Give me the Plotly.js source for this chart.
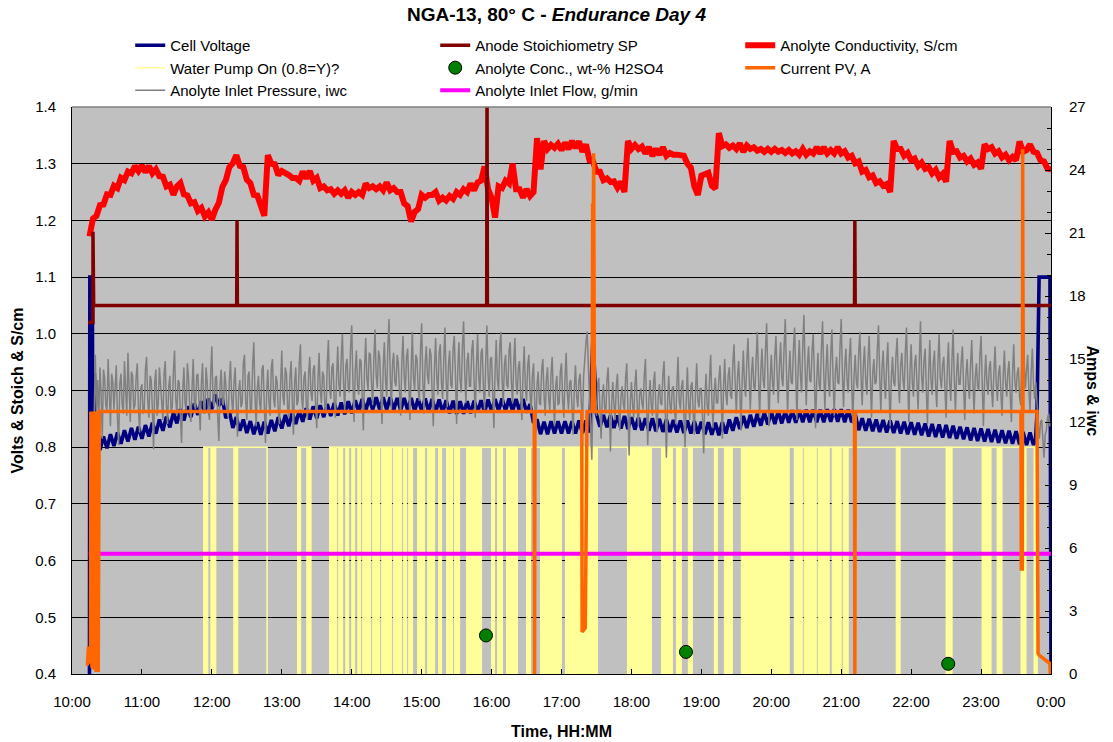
<!DOCTYPE html>
<html>
<head>
<meta charset="utf-8">
<script src="https://cdn.plot.ly/plotly-3.0.1.min.js"></script>
<style>
  html, body { margin: 0; padding: 0; background: #ffffff; }
  #chart { width: 1113px; height: 742px; }
</style>
</head>
<body>
<div id="chart"></div>
<script>
// ---- Time axis (hours of the day, 24 = midnight) ----
const xTickVals = [10, 11, 12, 13, 14, 15, 16, 17, 18, 19, 20, 21, 22, 23, 24];
const xTickText = ['10:00', '11:00', '12:00', '13:00', '14:00', '15:00', '16:00', '17:00',
                   '18:00', '19:00', '20:00', '21:00', '22:00', '23:00', '0:00'];

// ---- Anolyte conductivity, S/cm (logged every 3 min from 10:15) ----
const conductivityStart = 10.25;
const conductivityStepMin = 3;
const conductivity = [
  1.172, 1.203, 1.208, 1.227, 1.228, 1.246, 1.245, 1.261, 1.257, 1.275, 1.271, 1.286, 1.283, 1.296, 1.287,
  1.297, 1.285, 1.296, 1.283, 1.290, 1.278, 1.277, 1.260, 1.263, 1.245, 1.260, 1.266, 1.246, 1.244, 1.230, 1.232, 1.217, 1.222, 1.207, 1.214,
  1.201, 1.219, 1.231, 1.259, 1.271, 1.294, 1.301, 1.315, 1.296, 1.294, 1.272, 1.266, 1.245, 1.244, 1.223, 1.208, 1.315, 1.300, 1.299, 1.280,
  1.287, 1.284, 1.280, 1.275, 1.275, 1.270, 1.286, 1.274, 1.287, 1.270, 1.275, 1.257, 1.260, 1.253, 1.255, 1.247, 1.253, 1.247, 1.253, 1.240,
  1.250, 1.245, 1.250, 1.245, 1.265, 1.257, 1.260, 1.255, 1.260, 1.253, 1.267, 1.253, 1.257, 1.250, 1.250, 1.230, 1.225, 1.198, 1.215, 1.220,
  1.245, 1.240, 1.245, 1.245, 1.250, 1.235, 1.240, 1.235, 1.243, 1.238, 1.250, 1.245, 1.255, 1.250, 1.265, 1.253, 1.267, 1.270, 1.295, 1.255,
  1.240, 1.205, 1.260, 1.257, 1.270, 1.265, 1.300, 1.255, 1.255, 1.240, 1.255, 1.243, 1.250, 1.345, 1.290, 1.340, 1.326, 1.333, 1.328, 1.335,
  1.324, 1.337, 1.326, 1.340, 1.328, 1.339, 1.321, 1.334, 1.306, 1.304, 1.286, 1.286, 1.271, 1.274, 1.268, 1.269, 1.258, 1.268, 1.250, 1.340,
  1.326, 1.333, 1.326, 1.330, 1.318, 1.329, 1.314, 1.326, 1.316, 1.329, 1.314, 1.319, 1.316, 1.316, 1.314, 1.314, 1.300, 1.293, 1.260, 1.245,
  1.279, 1.281, 1.284, 1.261, 1.256, 1.354, 1.331, 1.334, 1.328, 1.332, 1.326, 1.336, 1.321, 1.332, 1.326, 1.329, 1.323, 1.326, 1.321, 1.326,
  1.321, 1.326, 1.321, 1.324, 1.319, 1.324, 1.318, 1.322, 1.316, 1.326, 1.316, 1.322, 1.318, 1.329, 1.318, 1.329, 1.318, 1.324, 1.318, 1.329,
  1.318, 1.322, 1.311, 1.314, 1.301, 1.304, 1.286, 1.289, 1.276, 1.279, 1.266, 1.269, 1.261, 1.264, 1.250, 1.340, 1.326, 1.326, 1.314, 1.319,
  1.306, 1.309, 1.296, 1.302, 1.291, 1.294, 1.283, 1.289, 1.276, 1.282, 1.268, 1.340, 1.321, 1.322, 1.311, 1.314, 1.304, 1.309, 1.298, 1.302,
  1.291, 1.334, 1.326, 1.329, 1.318, 1.322, 1.311, 1.316, 1.306, 1.312, 1.306, 1.339, 1.321, 1.324, 1.334, 1.321, 1.319, 1.306, 1.304, 1.291,
  1.290
];

// ---- Cell voltage, V ----
const voltageStartT = [10.25, 10.255, 10.29, 10.30, 10.32, 10.34];
const voltageStartV = [0.40, 1.10, 1.10, 0.72, 0.93, 0.80];
const voltageBandStart = 10.35;
const voltageStepMin = 3;
const voltageBand = [
  0.816, 0.795, 0.819, 0.798, 0.823, 0.802, 0.826, 0.806, 0.830, 0.810, 0.834, 0.813, 0.836,
  0.815, 0.839, 0.819, 0.843, 0.824, 0.849, 0.829, 0.854, 0.835, 0.861, 0.842, 0.867, 0.847, 0.872, 0.853, 0.877, 0.857, 0.881, 0.861, 0.886,
  0.867, 0.893, 0.873, 0.886, 0.851, 0.863, 0.834, 0.853, 0.829, 0.849, 0.825, 0.846, 0.823, 0.844, 0.822, 0.845, 0.824, 0.848, 0.828, 0.853,
  0.833, 0.857, 0.837, 0.861, 0.841, 0.865, 0.845, 0.869, 0.849, 0.872, 0.851, 0.874, 0.853, 0.876, 0.855, 0.878, 0.856, 0.879, 0.858, 0.881,
  0.860, 0.883, 0.862, 0.885, 0.864, 0.887, 0.866, 0.888, 0.866, 0.888, 0.866, 0.888, 0.865, 0.887, 0.865, 0.887, 0.865, 0.887, 0.864, 0.886,
  0.864, 0.886, 0.863, 0.885, 0.862, 0.884, 0.861, 0.883, 0.860, 0.882, 0.859, 0.881, 0.859, 0.881, 0.860, 0.882, 0.861, 0.883, 0.862, 0.884,
  0.863, 0.885, 0.864, 0.886, 0.864, 0.886, 0.864, 0.885, 0.863, 0.885, 0.861, 0.876, 0.843, 0.849, 0.823, 0.845, 0.823, 0.846, 0.824, 0.846,
  0.824, 0.846, 0.824, 0.846, 0.824, 0.847, 0.825, 0.847, 0.826, 0.995, 0.858, 0.836, 0.857, 0.835, 0.856, 0.834, 0.856, 0.833, 0.855, 0.832,
  0.853, 0.831, 0.852, 0.830, 0.851, 0.829, 0.851, 0.828, 0.850, 0.827, 0.849, 0.827, 0.848, 0.826, 0.847, 0.825, 0.847, 0.824, 0.846, 0.824,
  0.845, 0.823, 0.844, 0.822, 0.843, 0.821, 0.844, 0.824, 0.849, 0.829, 0.853, 0.832, 0.855, 0.834, 0.857, 0.836, 0.859, 0.838, 0.861, 0.840,
  0.863, 0.841, 0.864, 0.842, 0.864, 0.843, 0.865, 0.843, 0.865, 0.844, 0.866, 0.844, 0.866, 0.844, 0.866, 0.844, 0.867, 0.845, 0.867, 0.845,
  0.867, 0.844, 0.866, 0.844, 0.859, 0.830, 0.851, 0.829, 0.850, 0.828, 0.849, 0.827, 0.848, 0.826, 0.847, 0.825, 0.846, 0.824, 0.845, 0.823,
  0.844, 0.822, 0.843, 0.821, 0.842, 0.819, 0.841, 0.818, 0.840, 0.817, 0.839, 0.816, 0.838, 0.815, 0.836, 0.814, 0.835, 0.812, 0.834, 0.811,
  0.833, 0.810, 0.832, 0.809, 0.831, 0.808, 0.830, 0.807, 0.829, 0.806, 0.828, 0.805, 0.827, 0.804, 0.826, 0.804
];
const voltageEndT = [23.78, 23.80, 23.815, 23.83, 23.985, 24.0];
const voltageEndV = [0.815, 0.86, 0.98, 1.10, 1.10, 0.40];

// ---- Anolyte inlet pressure, iwc (logged every minute from 10:18) ----
const pressureStart = 10.3;
const pressureStepMin = 1;
const pressure = [
  9.0, 13.1, 15.2, 12.4, 14.0, 12.1, 14.6, 13.3, 11.2, 14.5, 14.1, 12.8, 12.5, 15.0, 13.2, 11.8, 14.3, 13.9, 12.6, 13.4, 14.7, 12.2, 10.9, 13.8, 14.3, 12.9, 12.4, 14.9, 13.0, 12.3,
  15.3, 13.5, 12.0, 14.4, 14.2, 12.6, 12.8, 14.1, 14.8, 12.7, 11.5, 13.6, 13.8, 12.4, 12.6, 14.5, 15.1, 13.0, 12.2, 14.2, 14.0, 12.5, 10.7, 13.9, 14.5, 12.3, 12.9, 14.6, 13.7, 12.6,
  12.1, 14.3, 14.9, 12.8, 11.9, 13.7, 14.2, 12.5, 12.7, 14.4, 15.4, 13.1, 12.3, 14.0, 13.9, 12.4, 11.0, 13.5, 14.6, 12.9, 12.5, 14.8, 14.1, 12.7, 12.0, 13.6, 15.0, 12.8, 12.6, 14.2,
  14.3, 12.9, 11.6, 13.8, 14.8, 12.7, 12.4, 14.6, 13.9, 12.5, 12.1, 14.3, 15.6, 13.0, 12.7, 14.1, 14.2, 12.3, 11.1, 13.7, 14.5, 12.9, 12.8, 14.4, 13.8, 12.6, 12.2, 14.0, 14.9, 13.1,
  12.4, 13.9, 14.6, 12.8, 11.3, 13.5, 14.0, 12.7, 12.9, 14.8, 15.2, 13.0, 12.1, 14.2, 14.4, 12.6, 12.6, 14.7, 15.8, 13.3, 11.8, 13.6, 14.2, 12.9, 12.5, 14.5, 14.7, 12.8, 11.0, 13.4,
  14.5, 12.9, 12.3, 14.6, 15.0, 13.1, 12.7, 14.2, 13.9, 12.5, 11.9, 13.8, 15.4, 13.2, 12.8, 14.6, 14.3, 12.7, 12.2, 14.1, 14.9, 13.0, 11.4, 13.9, 14.6, 12.8, 13.0, 14.8, 15.7, 13.2,
  12.6, 14.1, 14.4, 12.9, 12.1, 14.3, 15.1, 13.4, 13.0, 14.5, 14.7, 12.8, 11.7, 14.0, 15.3, 13.5, 12.9, 14.4, 14.2, 12.7, 12.4, 14.8, 15.9, 13.6, 13.1, 14.6, 14.8, 13.0, 12.2, 14.1,
  15.6, 13.8, 13.2, 15.1, 16.2, 13.9, 12.5, 14.7, 15.0, 13.6, 13.4, 15.5, 16.6, 14.0, 12.0, 14.4, 15.4, 13.7, 13.3, 15.0, 14.9, 13.2, 11.6, 14.5, 16.0, 14.1, 13.5, 15.3, 15.2, 13.8,
  12.8, 15.0, 16.4, 14.2, 13.6, 15.4, 15.1, 13.5, 11.9, 14.6, 15.8, 14.0, 13.2, 15.6, 16.9, 14.3, 12.6, 14.8, 15.3, 13.9, 13.7, 15.2, 14.8, 13.4, 12.3, 14.9, 16.1, 14.2, 13.4, 15.1,
  15.5, 13.7, 12.1, 14.5, 16.3, 14.1, 13.5, 15.2, 15.0, 13.6, 13.0, 15.4, 16.7, 14.0, 12.4, 14.8, 15.6, 14.2, 13.8, 15.5, 15.2, 13.4, 11.8, 14.6, 16.0, 14.1, 13.3, 15.3, 15.7, 13.9,
  13.1, 15.0, 16.5, 14.0, 12.7, 14.7, 15.4, 13.8, 13.6, 15.5, 16.1, 14.2, 11.9, 14.5, 15.8, 14.0, 13.4, 15.6, 16.8, 14.3, 12.9, 14.9, 15.3, 13.7, 13.7, 15.4, 15.9, 13.9, 12.2, 14.6,
  16.2, 14.1, 13.4, 15.3, 15.5, 13.6, 12.6, 14.9, 16.6, 14.2, 13.2, 15.0, 15.1, 13.4, 11.7, 14.4, 15.9, 14.0, 13.5, 15.6, 16.3, 14.1, 12.8, 14.7, 15.2, 13.8, 13.6, 15.4, 15.8, 13.9,
  12.9, 14.8, 16.0, 13.9, 13.3, 14.6, 14.9, 13.2, 12.1, 14.3, 15.6, 13.7, 13.0, 14.7, 15.2, 13.4, 12.4, 14.2, 14.8, 13.0, 11.5, 13.8, 14.4, 12.9, 12.8, 14.5, 15.0, 13.3, 12.3, 14.0,
  14.6, 13.1, 12.5, 14.3, 15.1, 13.2, 11.8, 13.7, 14.2, 12.8, 12.9, 14.4, 14.8, 13.0, 12.2, 14.1, 15.3, 13.4, 12.6, 13.9, 14.0, 12.7, 11.4, 13.6, 14.7, 13.2, 12.7, 14.0, 14.3, 12.9,
  12.0, 14.2, 15.2, 15.8, 16.3, 14.6, 13.5, 11.8, 10.2, 13.3, 14.9, 13.1, 12.3, 13.8, 14.1, 12.6, 11.2, 13.2, 13.8, 12.7, 12.4, 14.0, 14.6, 12.9, 10.6, 12.8, 13.9, 12.8, 12.1, 13.7,
  14.3, 12.7, 11.6, 13.2, 13.7, 12.9, 12.5, 14.1, 14.8, 12.6, 10.4, 12.9, 13.9, 12.8, 12.2, 13.8, 14.5, 12.7, 11.8, 13.3, 13.6, 12.9, 12.6, 14.2, 15.0, 12.8, 10.9, 13.1, 14.0, 12.8,
  12.3, 13.9, 14.4, 12.6, 11.5, 13.2, 13.8, 12.9, 12.8, 14.3, 14.9, 12.7, 10.3, 12.9, 14.2, 12.8, 12.4, 13.6, 13.7, 12.5, 11.9, 13.8, 15.1, 13.0, 12.6, 13.7, 14.0, 12.4, 10.8, 13.0,
  14.6, 12.9, 12.1, 13.7, 13.9, 12.4, 11.4, 13.5, 14.8, 13.0, 12.7, 13.6, 13.6, 12.2, 10.5, 13.1, 14.3, 12.8, 12.3, 14.1, 15.2, 13.1, 11.7, 13.4, 14.1, 12.9, 12.9, 14.0, 14.7, 13.3,
  11.2, 13.6, 15.0, 13.4, 12.8, 14.2, 14.6, 13.3, 13.1, 14.8, 15.7, 13.9, 12.4, 14.1, 14.9, 13.5, 11.6, 14.0, 15.4, 13.8, 13.2, 14.9, 16.0, 14.1, 12.6, 14.3, 15.1, 13.7, 13.5, 15.0,
  16.3, 14.2, 12.2, 14.4, 15.5, 14.0, 13.6, 15.4, 16.7, 14.3, 11.8, 14.0, 15.2, 13.9, 13.3, 15.1, 16.1, 14.2, 12.9, 14.7, 15.8, 14.1, 13.7, 15.6, 16.9, 14.4, 12.4, 14.3, 15.4, 13.9,
  13.8, 15.5, 16.5, 14.3, 12.1, 14.5, 15.9, 14.2, 13.4, 15.6, 17.1, 14.6, 12.8, 14.7, 15.6, 14.0, 13.9, 15.4, 16.2, 14.1, 11.7, 14.0, 15.3, 13.8, 13.5, 15.5, 16.8, 14.4, 12.6, 14.6,
  15.7, 14.0, 13.2, 15.2, 16.4, 14.1, 12.3, 14.4, 15.1, 13.9, 13.8, 15.6, 16.9, 14.3, 12.7, 14.6, 15.5, 14.0, 13.4, 15.1, 16.0, 13.8, 11.9, 14.2, 15.2, 13.9, 13.6, 15.3, 16.3, 14.2,
  12.8, 14.7, 15.6, 14.0, 13.3, 15.0, 16.1, 14.1, 12.2, 14.3, 15.0, 13.8, 13.9, 15.5, 16.6, 14.2, 12.5, 14.6, 15.4, 13.9, 13.1, 14.8, 15.8, 13.7, 11.8, 14.1, 15.1, 13.9, 13.7, 15.2,
  16.0, 14.0, 12.9, 14.7, 15.3, 14.0, 13.5, 15.3, 16.5, 14.1, 12.0, 14.4, 15.7, 13.9, 13.2, 14.8, 15.2, 13.8, 12.6, 14.9, 16.8, 14.2, 13.4, 14.9, 15.5, 13.6, 11.9, 14.3, 15.9, 14.0,
  13.3, 14.8, 15.4, 13.7, 12.7, 14.9, 16.2, 14.1, 13.6, 14.7, 15.1, 13.6, 12.2, 14.5, 15.8, 13.9, 13.0, 14.9, 16.4, 14.0, 12.5, 14.3, 15.3, 13.8, 13.8, 14.9, 15.6, 13.7, 12.1, 14.2,
  15.0, 13.8, 13.1, 14.8, 15.9, 13.9, 12.4, 14.1, 14.8, 13.7, 13.5, 15.2, 16.1, 13.8, 11.8, 14.0, 15.2, 13.9, 13.3, 14.6, 14.9, 13.5, 12.7, 14.4, 15.6, 13.9, 13.0, 14.3, 14.7, 13.4,
  12.3, 14.2, 15.4, 13.9, 13.2, 14.4, 14.9, 13.3, 12.0, 14.3, 15.7, 13.9, 13.4, 14.3, 14.6, 13.2, 12.8, 15.0, 21.0, 14.8, 13.6, 14.5, 15.2, 13.5, 12.5, 14.4, 15.5, 13.8, 13.1, 13.9,
  12.6, 11.9, 11.2, 12.0, 12.1, 11.0, 10.3, 11.4, 11.6, 12.2, 12.4, 11.8
];

// ---- Anode stoichiometry set point ----
const stoichT = [10.23, 10.30, 10.30, 10.31, 12.355, 12.36, 12.365, 15.93, 15.935, 15.94, 21.19, 21.195, 21.20, 24.0];
const stoichV = [1.02, 1.02, 1.18, 1.05, 1.05, 1.20, 1.05, 1.05, 1.45, 1.05, 1.05, 1.20, 1.05, 1.05];

// ---- Current PV, A ----
const currentT = [10.22, 10.235, 10.25, 10.265, 10.27, 10.285, 10.30, 10.315, 10.33, 10.345, 10.36, 10.375, 10.39,
                  16.61, 16.615, 16.62,
                  17.29, 17.295, 17.34, 17.345, 17.35, 17.352, 17.355, 17.358, 17.36, 17.362, 17.365,
                  17.44, 17.445, 17.45, 17.455, 17.46, 17.47,
                  21.19, 21.195, 21.20,
                  23.57, 23.575, 23.59, 23.595, 23.60,
                  23.80, 23.815, 23.83, 23.96, 23.985, 23.99];
const currentV = [0.4, 1.3, 0.5, 1.0, 12.5, 0.3, 12.5, 0.2, 12.5, 0.1, 12.5, 0.1, 12.5,
                  12.5, 0.0, 12.5,
                  12.5, 2.0, 2.2, 3.5, 4.6, 5.8, 7.2, 8.6, 10.0, 11.4, 12.5,
                  12.5, 22.4, 17.6, 22.0, 24.8, 12.5,
                  12.5, 0.0, 12.5,
                  12.5, 5.0, 5.0, 25.0, 12.5,
                  12.5, 1.0, 0.9, 0.6, 0.5, 0.0];

// ---- Anolyte inlet flow, g/min ----
const flowT = [10.24, 24.0];
const flowV = [5.73, 5.73];

// ---- Anolyte concentration samples, wt-% H2SO4 ----
const concT = [15.92, 18.78, 22.53];
const concV = [0.468, 0.439, 0.418];

// ---- Water pump: steady on/off states and short cycling bursts ----
const pumpTimes  = [10.25, 11.886, 12.79, 13.229, 13.414, 13.686, 23.80, 24.0];
const pumpStates = [0,     0.8,    0,     0.8,    0,      0.8,    0,     0];
const burstStart = [11.886, 11.986, 12.314, 13.229, 13.357, 13.686, 13.814, 13.914, 14.000, 14.086, 14.157, 14.300,
                    14.429, 14.600, 14.743, 14.814, 14.943, 15.086, 15.243, 15.357, 15.471, 15.643, 16.000, 16.086,
                    16.214, 16.500, 16.700, 17.057, 17.943, 18.429, 18.643, 18.814, 19.186, 19.329, 19.571, 20.329,
                    20.471, 20.671, 20.871, 21.029, 21.786, 22.500, 23.014, 23.229, 23.571, 23.757];
const burstEnd   = [11.943, 12.057, 12.371, 13.271, 13.414, 13.786, 13.871, 13.957, 14.043, 14.129, 14.271, 14.400,
                    14.571, 14.714, 14.786, 14.871, 15.043, 15.186, 15.286, 15.443, 15.543, 15.857, 16.043, 16.157,
                    16.371, 16.557, 17.000, 17.514, 18.286, 18.586, 18.714, 18.871, 19.229, 19.443, 20.257, 20.443,
                    20.643, 20.829, 21.000, 21.100, 21.843, 22.586, 23.143, 23.300, 23.643, 23.800];

// ---- helpers ----
function sampleTimes(start, stepMin, count) {
  const t = [];
  for (let i = 0; i < count; i++) t.push(start + i * stepMin / 60);
  return t;
}
const burstX = [], burstY = [];
for (let i = 0; i < burstStart.length; i++) {
  burstX.push(burstStart[i], burstStart[i], burstEnd[i], burstEnd[i], null);
  burstY.push(0, 0.8, 0.8, 0, null);
}

const voltageT = voltageStartT.concat(sampleTimes(voltageBandStart, voltageStepMin, voltageBand.length), voltageEndT);
const voltageV = voltageStartV.concat(voltageBand, voltageEndV);

const traces = [
  { // pump cycling bursts
    x: burstX, y: burstY, type: 'scatter', mode: 'lines', fill: 'toself',
    fillcolor: '#FFFF99', line: { color: '#FFFF99', width: 1 },
    showlegend: false, hoverinfo: 'skip'
  },
  {
    name: 'Water Pump On (0.8=Y)?', legendrank: 4,
    x: pumpTimes, y: pumpStates, type: 'scatter', mode: 'lines',
    line: { color: '#FFFF99', width: 1.5, shape: 'hv' }
  },
  {
    name: 'Cell Voltage', legendrank: 1,
    x: voltageT, y: voltageV, type: 'scatter', mode: 'lines',
    line: { color: '#000080', width: 3.6 }
  },
  {
    name: 'Anolyte Inlet Pressure, iwc', legendrank: 7, yaxis: 'y2',
    x: sampleTimes(pressureStart, pressureStepMin, pressure.length), y: pressure,
    type: 'scatter', mode: 'lines', line: { color: '#808080', width: 1.5 }
  },
  {
    name: 'Anolyte Inlet Flow, g/min', legendrank: 8, yaxis: 'y2',
    x: flowT, y: flowV, type: 'scatter', mode: 'lines',
    line: { color: '#FF00FF', width: 4 }
  },
  {
    name: 'Anolyte Conductivity, S/cm', legendrank: 3,
    x: sampleTimes(conductivityStart, conductivityStepMin, conductivity.length), y: conductivity,
    type: 'scatter', mode: 'lines', line: { color: '#FF0000', width: 6 }
  },
  {
    name: 'Anode Stoichiometry SP', legendrank: 2,
    x: stoichT, y: stoichV, type: 'scatter', mode: 'lines',
    line: { color: '#800000', width: 3.5 }
  },
  {
    name: 'Current PV, A', legendrank: 6, yaxis: 'y2',
    x: currentT, y: currentV, type: 'scatter', mode: 'lines',
    line: { color: '#FF6600', width: 3.5 }
  },
  {
    name: 'Anolyte Conc., wt-% H2SO4', legendrank: 5,
    x: concT, y: concV, type: 'scatter', mode: 'markers',
    marker: { color: '#008000', size: 13, line: { color: '#000000', width: 1 } }
  }
];

const layout = {
  width: 1113, height: 742,
  margin: { l: 72, r: 62, t: 107, b: 68, pad: 0 },
  paper_bgcolor: '#FFFFFF',
  plot_bgcolor: '#C0C0C0',
  font: { family: '"Liberation Sans", Arial, sans-serif', size: 15, color: '#000000' },
  title: {
    text: '<b>NGA-13, 80° C - <i>Endurance Day 4</i></b>',
    font: { size: 19 },
    x: 0.5, xanchor: 'center',
    y: 0.981, yref: 'container', yanchor: 'middle'
  },
  showlegend: true,
  legend: {
    orientation: 'h',
    xref: 'container', yref: 'container',
    x: 0.117, y: 0.961, xanchor: 'left', yanchor: 'top',
    entrywidth: 260, entrywidthmode: 'pixels',
    font: { size: 15 },
    bgcolor: 'rgba(0,0,0,0)',
    traceorder: 'normal'
  },
  xaxis: {
    range: [10, 24],
    tickvals: xTickVals, ticktext: xTickText,
    ticks: 'inside', ticklen: 5, tickcolor: '#000000',
    showline: true, linecolor: '#000000', linewidth: 1,
    showgrid: false, zeroline: false,
    ticklabelstandoff: 14,
    title: { text: '<b>Time, HH:MM</b>', font: { size: 16 }, standoff: 16 }
  },
  yaxis: {
    range: [0.4, 1.4], dtick: 0.1, tickformat: '.1f',
    ticks: 'inside', ticklen: 5, tickcolor: '#000000',
    showline: true, linecolor: '#000000', linewidth: 1,
    showgrid: true, gridcolor: '#000000', gridwidth: 1,
    zeroline: false,
    ticklabelstandoff: 12,
    title: { text: '<b>Volts & Stoich & S/cm</b>', font: { size: 16 }, standoff: 7 }
  },
  yaxis2: {
    overlaying: 'y', side: 'right',
    range: [0, 27], dtick: 3,
    ticks: 'inside', ticklen: 6, tickcolor: '#000000',
    minor: { dtick: 1, ticks: 'inside', ticklen: 4, tickcolor: '#000000' },
    showline: true, linecolor: '#000000', linewidth: 1,
    showgrid: false, zeroline: false,
    ticklabelstandoff: 14
  },
  annotations: [{
    text: '<b>Amps & iwc</b>', textangle: 90,
    xref: 'paper', yref: 'paper', x: 1.042, y: 0.5,
    xanchor: 'center', yanchor: 'middle', showarrow: false,
    font: { size: 16 }
  }],
  shapes: [{
    type: 'line', xref: 'paper', yref: 'paper', x0: 0, x1: 1, y0: 1, y1: 1,
    line: { color: '#808080', width: 1.5 }
  }]
};

Plotly.newPlot('chart', traces, layout, { displayModeBar: false, staticPlot: true });
</script>
</body>
</html>
